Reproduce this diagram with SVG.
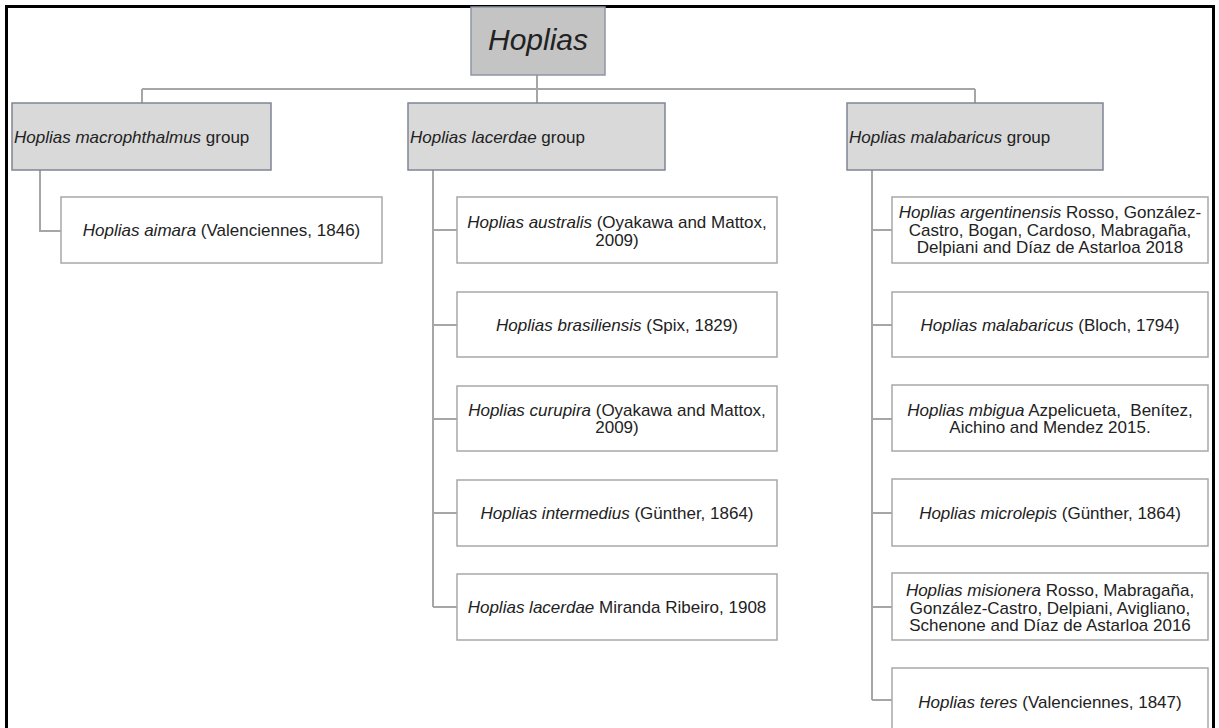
<svg xmlns="http://www.w3.org/2000/svg" width="1219" height="728" viewBox="0 0 1219 728">
<style>
.t{font-family:"Liberation Sans",Arial,sans-serif;font-size:17px;fill:#222}
.c{text-anchor:middle}
.i{font-style:italic}
.root{fill:#c4c4c4;stroke:#8e95a5;stroke-width:1.5}
.grp{fill:#d9d9d9;stroke:#7f8595;stroke-width:1.5}
.leaf{fill:#fff;stroke:#a8a8a8;stroke-width:1.5}
.conn{fill:none;stroke:#a6a6a6;stroke-width:2}
</style>
<rect width="1219" height="728" fill="#fff"/>
<path d="M6.5,728 V6.5 H1213.5 V728" fill="none" stroke="#000" stroke-width="3"/>
<g id="connectors" class="conn">
<path d="M537,75 V89 M142,89 H975 M142,89 V103 M537,89 V103 M975,89 V103"/>
<path d="M40,170 V231 H61"/>
<path d="M433,170 V607 M433,230 H457 M433,325 H457 M433,419 H457 M433,513 H457 M433,607 H457"/>
<path d="M872,170 V700 M872,230 H892 M872,325 H892 M872,419 H892 M872,513 H892 M872,607 H892 M872,700 H892"/>
</g>
<g id="root">
<rect class="root" x="471" y="7" width="134" height="68"/>
<text class="t c i" x="538" y="50" style="font-size:30px">Hoplias</text>
</g>
<g id="g-macrophthalmus">
<rect class="grp" x="12" y="103" width="259" height="67"/>
<text class="t" x="14" y="143"><tspan class="i">Hoplias macrophthalmus</tspan> group</text>
</g>
<g id="g-lacerdae">
<rect class="grp" x="408" y="103" width="257" height="67"/>
<text class="t" x="410" y="143"><tspan class="i">Hoplias lacerdae</tspan> group</text>
</g>
<g id="g-malabaricus">
<rect class="grp" x="847" y="103" width="256" height="67"/>
<text class="t" x="849" y="143"><tspan class="i">Hoplias malabaricus</tspan> group</text>
</g>
<g id="aimara">
<rect class="leaf" x="61" y="197" width="321" height="66"/>
<text class="t c" x="221.5" y="236"><tspan class="i">Hoplias aimara</tspan> (Valenciennes, 1846)</text>
</g>
<g id="australis">
<rect class="leaf" x="457" y="197" width="320" height="66"/>
<text class="t c" x="617" y="228"><tspan class="i">Hoplias australis</tspan> (Oyakawa and Mattox,</text>
<text class="t c" x="617" y="246">2009)</text>
</g>
<g id="brasiliensis">
<rect class="leaf" x="457" y="292" width="320" height="65"/>
<text class="t c" x="617" y="331"><tspan class="i">Hoplias brasiliensis</tspan> (Spix, 1829)</text>
</g>
<g id="curupira">
<rect class="leaf" x="457" y="386" width="320" height="65"/>
<text class="t c" x="617" y="416"><tspan class="i">Hoplias curupira</tspan> (Oyakawa and Mattox,</text>
<text class="t c" x="617" y="433">2009)</text>
</g>
<g id="intermedius">
<rect class="leaf" x="457" y="480" width="320" height="66"/>
<text class="t c" x="617" y="519"><tspan class="i">Hoplias intermedius</tspan> (Günther, 1864)</text>
</g>
<g id="lacerdae">
<rect class="leaf" x="457" y="574" width="320" height="66"/>
<text class="t c" x="617" y="613"><tspan class="i">Hoplias lacerdae</tspan> Miranda Ribeiro, 1908</text>
</g>
<g id="argentinensis">
<rect class="leaf" x="892" y="197" width="316" height="66"/>
<text class="t c" x="1050" y="218"><tspan class="i">Hoplias argentinensis</tspan> Rosso, González-</text>
<text class="t c" x="1050" y="236">Castro, Bogan, Cardoso, Mabragaña,</text>
<text class="t c" x="1050" y="253">Delpiani and Díaz de Astarloa 2018</text>
</g>
<g id="malabaricus">
<rect class="leaf" x="892" y="292" width="316" height="65"/>
<text class="t c" x="1050" y="331"><tspan class="i">Hoplias malabaricus</tspan> (Bloch, 1794)</text>
</g>
<g id="mbigua">
<rect class="leaf" x="892" y="385" width="316" height="66"/>
<text class="t c" x="1050" y="416" xml:space="preserve"><tspan class="i">Hoplias mbigua</tspan> Azpelicueta,  Benítez,</text>
<text class="t c" x="1050" y="433">Aichino and Mendez 2015.</text>
</g>
<g id="microlepis">
<rect class="leaf" x="892" y="479" width="316" height="67"/>
<text class="t c" x="1050" y="519"><tspan class="i">Hoplias microlepis</tspan> (Günther, 1864)</text>
</g>
<g id="misionera">
<rect class="leaf" x="892" y="573" width="316" height="67"/>
<text class="t c" x="1050" y="596"><tspan class="i">Hoplias misionera</tspan> Rosso, Mabragaña,</text>
<text class="t c" x="1050" y="614">González-Castro, Delpiani, Avigliano,</text>
<text class="t c" x="1050" y="631">Schenone and Díaz de Astarloa 2016</text>
</g>
<g id="teres">
<rect class="leaf" x="892" y="668" width="316" height="70"/>
<text class="t c" x="1050" y="708"><tspan class="i">Hoplias teres</tspan> (Valenciennes, 1847)</text>
</g>
</svg>
